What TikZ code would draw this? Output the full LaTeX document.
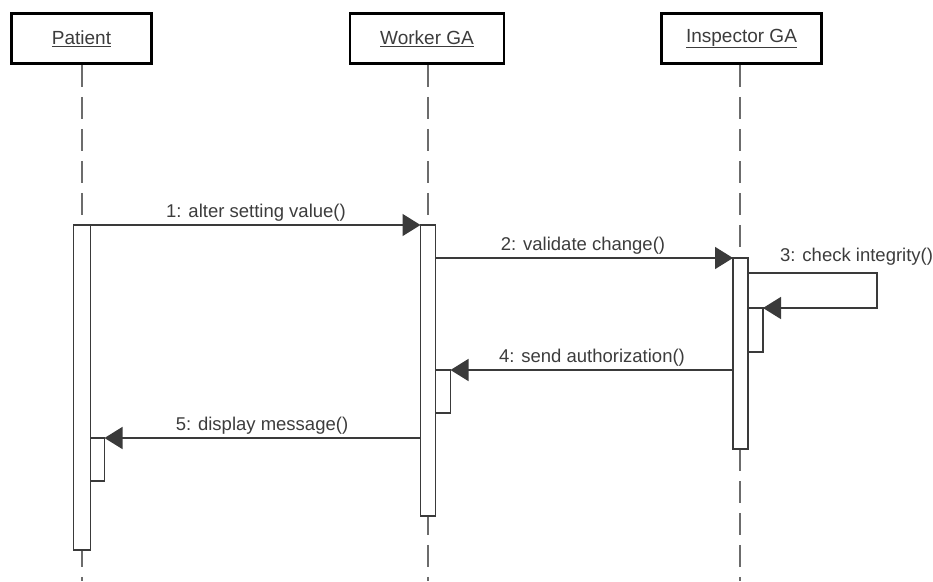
\documentclass[tikz,border=0pt]{standalone}
\usepackage{fontspec}
\setmainfont{Liberation Sans}
\usetikzlibrary{arrows.meta}
\definecolor{ln}{HTML}{3A3A3A}
\definecolor{tx}{HTML}{3C3C3C}
\begin{document}
\begin{tikzpicture}[x=1pt,y=-1pt,
  font=\fontsize{18.5}{20}\selectfont,
  head/.style={draw=black, line width=2.6pt, fill=white, inner sep=0pt, minimum height=50pt, text=tx, font=\fontsize{19}{20}\selectfont},
  lifeline/.style={draw=gray!85!black, line width=1.8pt, dash pattern=on 22pt off 10pt},
  bar/.style={draw=ln, line width=1.5pt, fill=white, inner sep=0pt, outer sep=0pt, minimum width=16pt},
  msg/.style={draw=ln, line width=1.5pt, -{Triangle[length=18pt,width=22pt]}},
  lbl/.style={text=tx, inner sep=0pt, anchor=base}]
\useasboundingbox (0,0) rectangle (933,581);
% heads
\node[head, minimum width=140pt] (pat) at (81.5,38.5) {\underline{Patient}};
\node[head, minimum width=154pt] (wrk) at (427,38.5) {\underline{Worker GA}};
\node[head, minimum width=160pt] (ins) at (741.5,38.5) {\underline{Inspector GA}};
% lifelines
\coordinate (pend) at (82,581);
\coordinate (wend) at (428,581);
\coordinate (iend) at (740,581);
\draw[lifeline] (pat.south -| pend) -- (pend);
\draw[lifeline] (wrk.south -| wend) -- (wend);
\draw[lifeline] (ins.south -| iend) -- (iend);
% activation bars
\node[bar, minimum width=17pt, minimum height=325pt] (pb) at (82,387.5) {};
\node[bar, minimum width=15pt, minimum height=291pt] (wb) at (428,370.5) {};
\node[bar, minimum width=15pt, minimum height=191pt] (ib) at (740.5,353.5) {};
% nested activations
\node[bar, minimum width=14pt, minimum height=43pt, anchor=north west] (pb2) at (pb.east |- 0,438) {};
\node[bar, minimum width=15pt, minimum height=43pt, anchor=north west] (wb2) at (wb.east |- 0,370) {};
\node[bar, minimum width=15pt, minimum height=44pt, anchor=north west] (ib2) at (ib.east |- 0,308) {};
% messages
\draw[msg] (pb.north east) -- (wb.north west);
\node[lbl] (l1) at (256,217) {1: alter setting value()};
\draw[msg] (wb.east |- ib.north) -- (ib.north west);
\node[lbl] (l2) at (583,250) {2: validate change()};
\coordinate (c3a) at (877,273);
\draw[msg] (ib.east |- c3a) -- (c3a) |- (ib2.north east);
\node[lbl, anchor=base west] (l3) at (780,261) {3: check integrity()};
\draw[msg] (ib.west |- wb2.north) -- (wb2.north east);
\node[lbl] (l4) at (592,362) {4: send authorization()};
\draw[msg] (wb.west |- pb2.north) -- (pb2.north east);
\node[lbl] (l5) at (262,430) {5: display message()};
\end{tikzpicture}
\end{document}
